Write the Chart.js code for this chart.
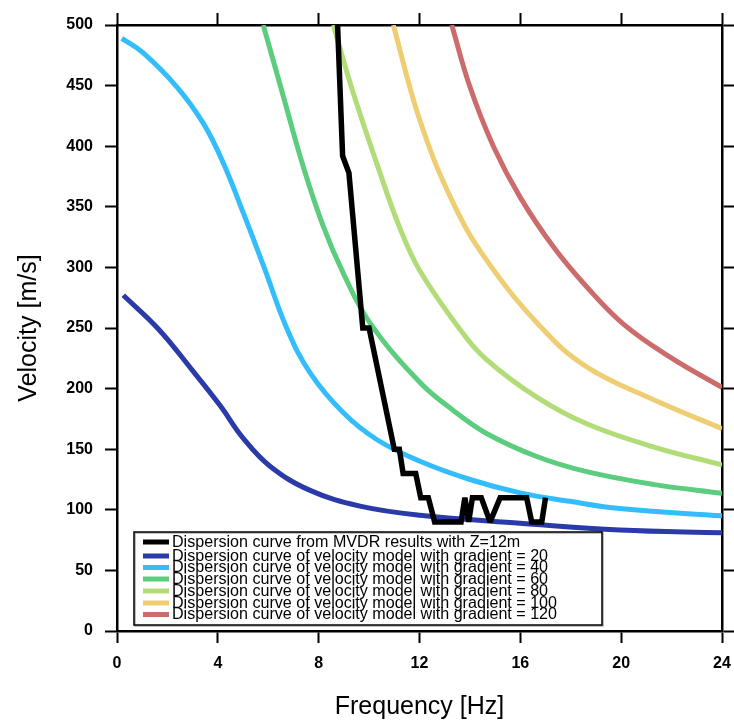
<!DOCTYPE html>
<html>
<head>
<meta charset="utf-8">
<script src="https://cdn.jsdelivr.net/npm/chart.js@4.4.1/dist/chart.umd.min.js"></script>
<style>
  html, body { margin: 0; padding: 0; background: #fff; }
  #wrap { width: 734px; height: 722px; }
</style>
</head>
<body>
<div id="wrap"><canvas id="c" width="734" height="722"></canvas></div>
<script>
// ---- Data ----
const xTitle = 'Frequency [Hz]';
const yTitle = 'Velocity [m/s]';

const seriesLabels = [
  'Dispersion curve from MVDR results with Z=12m',
  'Dispersion curve of velocity model with gradient = 20',
  'Dispersion curve of velocity model with gradient = 40',
  'Dispersion curve of velocity model with gradient = 60',
  'Dispersion curve of velocity model with gradient = 80',
  'Dispersion curve of velocity model with gradient = 100',
  'Dispersion curve of velocity model with gradient = 120'
];

const freqMVDR = [8.75, 8.95, 9.2, 9.75, 10.0, 11.0, 11.2, 11.35, 11.85, 12.05, 12.35, 12.6, 13.65, 13.8, 13.95, 14.1, 14.45, 14.8, 15.2, 16.25, 16.45, 16.85, 17.0];
const velMVDR  = [500, 392, 378, 250, 250, 150, 150, 130, 130, 110, 110, 90, 90, 110, 90, 110, 110, 90, 110, 110, 90, 90, 110];

const freqG20 = [0.25, 1.65, 3.03, 4.09, 5.01, 6.07, 7.66, 9.64, 12.02, 15.99, 19.95, 24];
const velG20  = [277, 249, 214, 186, 159, 136, 116, 103, 95.5, 89, 83.3, 81];

const freqG40 = [0.19, 1.04, 2.37, 3.42, 4.22, 5.01, 5.80, 6.75, 7.66, 8.98, 10.30, 12.02, 14.0, 15.99, 17.97, 19.95, 24];
const velG40  = [489, 477, 449, 419, 386, 345, 302, 249, 213, 180, 158, 140, 125, 114, 107, 101, 95];

const freqG60 = [5.80, 6.60, 7.39, 8.18, 8.98, 10.04, 12.02, 13.34, 14.66, 16.65, 18.63, 21.27, 24];
const velG60  = [500, 441, 383, 334, 295, 254, 205, 182, 163, 144, 131.5, 121, 113.6];

const freqG80 = [8.58, 9.37, 10.30, 11.23, 12.02, 13.6, 14.66, 16.65, 18.63, 21.27, 24];
const velG80  = [500, 444, 386, 332, 297, 249, 224, 193, 171, 152, 137];

const freqG100 = [10.96, 12.02, 13.34, 14.66, 16.85, 18.63, 21.27, 24];
const velG100  = [500, 421, 353, 306, 250, 218, 191, 167];

const freqG120 = [13.28, 14.0, 14.93, 15.99, 17.31, 18.63, 20.1, 21.94, 24];
const velG120  = [500, 449, 400, 358, 317, 284, 253, 226, 201];

const xMin = 0, xMax = 24, xStep = 4;
const yMin = 0, yMax = 500, yStep = 50;

const colors = ['#000000', '#2b3aa9', '#33bdfd', '#5ccd7e', '#b1dc78', '#efcd73', '#cc6b6c'];

// ---- Build datasets ----
function pts(xs, ys) { return xs.map((x, i) => ({ x: x, y: ys[i] })); }
const allSeries = [
  pts(freqMVDR, velMVDR),
  pts(freqG20, velG20),
  pts(freqG40, velG40),
  pts(freqG60, velG60),
  pts(freqG80, velG80),
  pts(freqG100, velG100),
  pts(freqG120, velG120)
];

const FONT = '"Liberation Sans", Arial, Helvetica, sans-serif';

const datasets = allSeries.map((d, i) => ({
  label: seriesLabels[i],
  data: d,
  borderColor: colors[i],
  backgroundColor: colors[i],
  borderWidth: i === 0 ? 5.5 : 5,
  pointRadius: 0,
  fill: false,
  tension: i === 0 ? 0 : 0.4,
  borderJoinStyle: 'miter',
  clip: 0
}));

// white background + limited miter spikes
const bgPlugin = {
  id: 'bg',
  beforeDraw(chart) {
    const ctx = chart.ctx;
    ctx.save();
    ctx.fillStyle = '#fff';
    ctx.fillRect(0, 0, chart.width, chart.height);
    ctx.restore();
  },
  beforeDatasetsDraw(chart) {
    chart.ctx.miterLimit = 2;
  }
};

// legend boxed inside the plot area (bottom-left)
const boxLegend = {
  id: 'boxLegend',
  afterDraw(chart) {
    const ctx = chart.ctx;
    const area = chart.chartArea;
    const ds = chart.data.datasets;
    const boxL = area.left + 17, boxR = area.left + 485;
    const boxT = area.bottom - 99, boxB = area.bottom - 6;
    ctx.save();
    ctx.fillStyle = '#fff';
    ctx.fillRect(boxL, boxT, boxR - boxL, boxB - boxT);
    ctx.strokeStyle = '#aaa';
    ctx.lineWidth = 1.5;
    ctx.strokeRect(boxL + 1, boxT + 1, boxR - boxL, boxB - boxT);
    ctx.strokeStyle = '#000';
    ctx.lineWidth = 1.5;
    ctx.strokeRect(boxL, boxT, boxR - boxL, boxB - boxT);

    const fs = 16;
    ctx.font = fs + 'px ' + FONT;
    let maxW = 0;
    ds.forEach(d => { maxW = Math.max(maxW, ctx.measureText(d.label).width); });
    const sx = 385 / maxW;
    ctx.textBaseline = 'middle';
    ctx.textAlign = 'left';
    const rowY = [boxT + 10, boxT + 24, boxT + 35.5, boxT + 47, boxT + 59, boxT + 71, boxT + 82.5];
    ds.forEach((d, i) => {
      const y = rowY[i];
      ctx.strokeStyle = d.borderColor;
      ctx.lineWidth = 5;
      ctx.beginPath();
      ctx.moveTo(boxL + 9, y);
      ctx.lineTo(boxL + 35, y);
      ctx.stroke();
      ctx.save();
      ctx.translate(boxL + 38, y + 0.5);
      ctx.scale(sx, 1);
      ctx.fillStyle = '#000';
      ctx.fillText(d.label, 0, 0);
      ctx.restore();
    });
    ctx.restore();
  }
};

const tickFont = { family: FONT, size: 16, weight: 'bold' };
const titleFont = { family: FONT, size: 25, weight: 'normal' };
const gridCommon = {
  display: true, drawOnChartArea: false, drawTicks: true,
  tickLength: 12, tickColor: '#000', tickWidth: 2, color: '#000'
};
const borderCommon = { display: true, color: '#000', width: 2.5 };
function noPad(s) { s.paddingLeft = 0; s.paddingRight = 0; s.paddingTop = 0; s.paddingBottom = 0; }

new Chart(document.getElementById('c'), {
  type: 'line',
  data: { datasets: datasets },
  plugins: [bgPlugin, boxLegend],
  options: {
    responsive: false,
    devicePixelRatio: 1,
    animation: false,
    events: [],
    layout: { padding: { top: 13, right: 0, bottom: 0, left: 0 } },
    plugins: { legend: { display: false }, tooltip: { enabled: false }, title: { display: false } },
    scales: {
      x: {
        type: 'linear', position: 'bottom', min: xMin, max: xMax,
        ticks: { stepSize: xStep, font: tickFont, color: '#000', padding: 11, maxRotation: 0 },
        grid: gridCommon, border: borderCommon,
        title: { display: true, text: xTitle, font: titleFont, color: '#000', padding: { top: 0, bottom: 0 } },
        afterFit: s => { s.height = 91; noPad(s); }
      },
      y: {
        type: 'linear', position: 'left', min: yMin, max: yMax,
        ticks: { stepSize: yStep, font: tickFont, color: '#000', padding: 12 },
        grid: gridCommon, border: borderCommon,
        title: { display: true, text: yTitle, font: titleFont, color: '#000', padding: { top: 14, bottom: 0 } },
        afterFit: s => { s.width = 117; noPad(s); }
      },
      x2: {
        type: 'linear', position: 'top', min: xMin, max: xMax,
        ticks: { stepSize: xStep, display: false },
        grid: gridCommon, border: borderCommon,
        afterFit: s => { s.height = 12; noPad(s); }
      },
      y2: {
        type: 'linear', position: 'right', min: yMin, max: yMax,
        ticks: { stepSize: yStep, display: false },
        grid: gridCommon, border: borderCommon,
        afterFit: s => { s.width = 12; noPad(s); }
      }
    }
  }
});
</script>
</body>
</html>
